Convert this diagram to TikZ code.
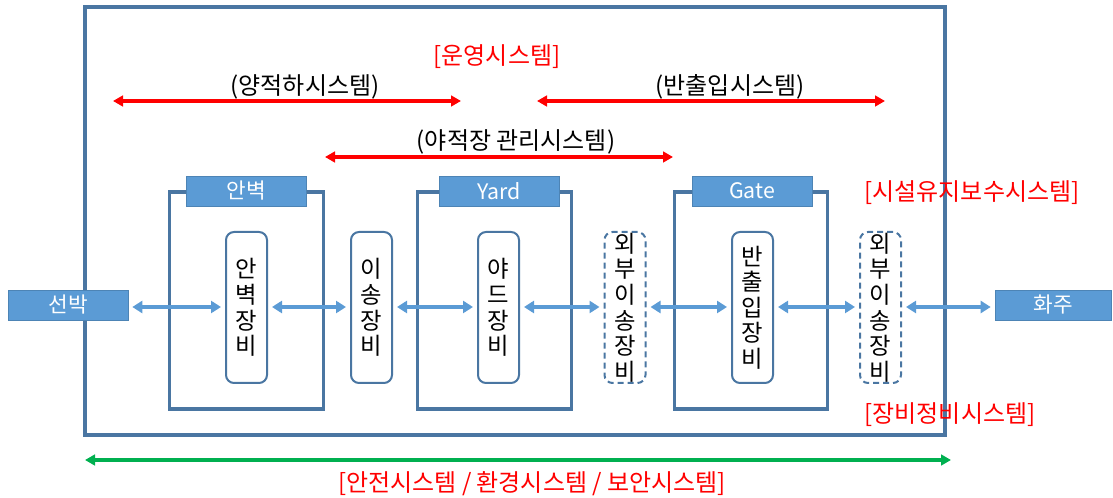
\documentclass[tikz,border=0pt]{standalone}
\usepackage{fontspec}
\setmainfont{Noto Sans CJK KR}
\usetikzlibrary{arrows.meta, positioning}
\definecolor{boxblue}{HTML}{5B9BD5}
\definecolor{frameblue}{HTML}{4A76A2}
\definecolor{safegreen}{HTML}{00B050}

\begin{document}
\begin{tikzpicture}[
		x=0.75pt, y=-0.75pt,
		every node/.style={inner sep=0pt, font=\fontsize{18}{21}\selectfont},
		tag/.style={fill=boxblue, draw=boxblue!85!black, line width=0.5pt, text=white, minimum width=90pt, minimum height=22.5pt, font=\fontsize{16}{19}\selectfont},
		area/.style={draw=frameblue, line width=2.4pt, minimum width=115pt, minimum height=162.75pt},
		equip/.style={draw=frameblue, line width=1.5pt, rounded corners=6pt, minimum width=30.75pt, minimum height=113.25pt, align=center, font=\fontsize{17.5}{19.2}\selectfont},
		ext/.style={equip, dash pattern=on 4.5pt off 3pt},
		flow/.style={{Triangle[length=7.5pt,width=9pt]}-{Triangle[length=7.5pt,width=9pt]}, boxblue, line width=2.4pt, shorten >=3pt, shorten <=3pt},
		sys/.style={{Triangle[length=7.5pt,width=8pt]}-{Triangle[length=7.5pt,width=8pt]}, red, line width=3.2pt},
		safe/.style={{Triangle[length=7.5pt,width=8pt]}-{Triangle[length=7.5pt,width=8pt]}, safegreen, line width=3.2pt},
		redtxt/.style={text=red}
		]
		\useasboundingbox (0,0) rectangle (1113,498);
		% terminal frame
		\draw[frameblue, line width=2.4pt] (85,7) rectangle (945,435);
		
		% areas
		\node[area] at (246.5,300.5) (quay) {};
		\node[area] at (494.5,300.5) (yard) {};
		\node[area] at (751,300.5) (gate) {};
		\node[tag] at (246,191) (quaytag) {안벽};
		\node[tag] at (499,191) (yardtag) {Yard};
		\node[tag] at (752,191) (gatetag) {Gate};
		
		% ends
		\node[tag, minimum width=90pt] at (68,305) (ship) {선박};
		\node[tag, minimum width=87pt] at (1053,305) (owner) {화주};
		
		% equipment
		\node[equip] at (246.5,307.5) (qeq) {안\\벽\\장\\비};
		\node[equip] at (371.5,307.5) (trans) {이\\송\\장\\비};
		\node[equip] at (498.5,307.5) (yeq) {야\\드\\장\\비};
		\node[ext] at (625,307.5) (ext1) {외\\부\\이\\송\\장\\비};
		\node[equip] at (752.5,307.5) (geq) {반\\출\\입\\장\\비};
		\node[ext] at (880.5,307.5) (ext2) {외\\부\\이\\송\\장\\비};
		
		% system labels
		\node[redtxt] at (497,57) (ops) {[운영시스템]};
		\node at (305,87) (loadsys) {(양적하시스템)};
		\node at (730,87) (gatesys) {(반출입시스템)};
		\node at (516,142) (yardsys) {(야적장 관리시스템)};
		\node[redtxt] at (972,193) (facsys) {[시설유지보수시스템]};
		\node[redtxt] at (950,415) (eqsys) {[장비정비시스템]};
		\node[redtxt] at (532,484) (safesys) {[안전시스템 / 환경시스템 / 보안시스템]};
		
		\coordinate (l1) at (113,101);
		\coordinate (r1) at (461,101);
		\coordinate (l2) at (537,101);
		\coordinate (r2) at (885,101);
		\coordinate (l3) at (325,157);
		\coordinate (r3) at (673,157);
		\coordinate (l4) at (85,460);
		\coordinate (r4) at (951,460);
		
		% arrows
		\draw[sys] (l1) -- (r1);
		\draw[sys] (l2) -- (r2);
		\draw[sys] (l3) -- (r3);
		\draw[safe] (l4) -- (r4);
		
		\draw[flow] (ship.east |- 0,307) -- (qeq.west |- 0,307);
		\draw[flow] (qeq.east |- 0,307) -- (trans.west |- 0,307);
		\draw[flow] (trans.east |- 0,307) -- (yeq.west |- 0,307);
		\draw[flow] (yeq.east |- 0,307) -- (ext1.west |- 0,307);
		\draw[flow] (ext1.east |- 0,307) -- (geq.west |- 0,307);
		\draw[flow] (geq.east |- 0,307) -- (ext2.west |- 0,307);
		\draw[flow] (ext2.east |- 0,307) -- (owner.west |- 0,307);
		
	\end{tikzpicture}
\end{document}
